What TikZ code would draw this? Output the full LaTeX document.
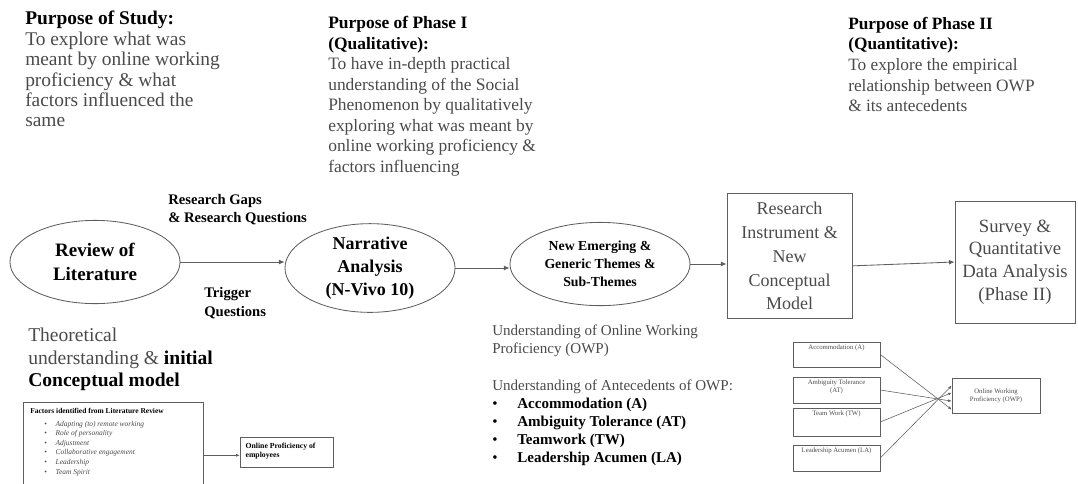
\documentclass[tikz,border=0pt]{standalone}
\usepackage{fontspec}
\setmainfont{Liberation Serif}
\usetikzlibrary{arrows.meta,shapes.geometric,positioning}
\definecolor{linegray}{HTML}{5E5E5E}
\definecolor{textgray}{HTML}{4A4A4A}
\tikzset{
  ovalstage/.style={ellipse,draw=linegray,line width=0.6pt,inner sep=0pt,align=center},
  boxstage/.style={rectangle,draw=linegray,line width=0.6pt,inner sep=0pt,align=center,text=textgray},
  purpose/.style={anchor=north west,inner sep=0pt,align=left,text=textgray},
  flowarrow/.style={-{Latex[length=4pt,width=3.5pt]},linegray,line width=0.6pt},
  minibox/.style={rectangle,draw=linegray,line width=0.4pt,inner sep=0pt,minimum width=2.175cm},
  minilabel/.style={anchor=north,inner sep=2pt,align=center,text=textgray,font=\fontsize{4.8}{5.6}\selectfont},
  miniarrow/.style={-{Latex[length=2.5pt,width=2pt]},linegray,line width=0.4pt}
}
\begin{document}
\begin{tikzpicture}[x=0.025cm,y=-0.025cm]
      \useasboundingbox (0,0) rectangle (1078,483);

      % purposes
      \node[purpose,font=\fontsize{13.8}{14.5}\selectfont] (study) at (25,11)
        {\textbf{\color{black}Purpose of Study:}\\To explore what was\\meant by online working\\proficiency \& what\\factors influenced the\\same};
      \node[purpose,font=\fontsize{12.4}{14.6}\selectfont] (phaseone) at (328,16)
        {\textbf{\color{black}Purpose of Phase I}\\\textbf{\color{black}(Qualitative):}\\To have in-depth practical\\understanding of the Social\\Phenomenon by qualitatively\\exploring what was meant by\\online working proficiency \&\\factors influencing};
      \node[purpose,font=\fontsize{12.3}{14.6}\selectfont] (phasetwo) at (848,17)
        {\textbf{\color{black}Purpose of Phase II}\\\textbf{\color{black}(Quantitative):}\\To explore the empirical\\relationship between OWP\\\& its antecedents};

      % main flow
      \node[ovalstage,minimum width=4.25cm,minimum height=2.08cm,font=\fontsize{13.5}{16.5}\selectfont\bfseries] (review) at (95,262) {Review of\\Literature};
      \node[ovalstage,minimum width=4.25cm,minimum height=2.0cm,font=\fontsize{12.8}{16.5}\selectfont\bfseries] (narrative) at (370,268) {Narrative\\Analysis\\(N-Vivo 10)};
      \node[ovalstage,minimum width=4.5cm,minimum height=2.08cm,font=\fontsize{9.8}{12.8}\selectfont\bfseries] (themes) at (600,264) {New Emerging \&\\Generic Themes \&\\Sub-Themes};
      \node[boxstage,minimum width=3.125cm,minimum height=3.125cm,font=\fontsize{12.8}{17}\selectfont] (instrument) at (789.5,256) {Research\\Instrument \&\\New\\Conceptual\\Model};
      \node[boxstage,minimum width=3.0cm,minimum height=3.05cm,font=\fontsize{13.3}{16.1}\selectfont] (survey) at (1015,262) {Survey \&\\Quantitative\\Data Analysis\\(Phase II)};

      \draw[flowarrow] (review.east) -- (review.east -| narrative.west);
      \draw[flowarrow] (narrative.east) -- (narrative.east -| themes.west);
      \draw[flowarrow] (themes.east) -- (themes.east -| instrument.west);
      \draw[flowarrow] ([yshift=-7pt]instrument.east) -- (survey.west);

      \node[purpose,text=black,font=\fontsize{10.4}{12.8}\selectfont\bfseries] (gaps) at (168,194) {Research Gaps\\\& Research Questions};
      \node[purpose,text=black,font=\fontsize{10.4}{13.3}\selectfont\bfseries] (trigger) at (204,287) {Trigger\\Questions};

      % initial model
      \node[purpose,font=\fontsize{13.9}{16}\selectfont] (theory) at (28,328)
        {Theoretical\\understanding \& \textbf{\color{black}initial}\\\textbf{\color{black}Conceptual model}};
      \node[rectangle,draw=linegray,line width=0.4pt,minimum width=4.5cm,minimum height=2.65cm,anchor=north west] (factors) at (23,402) {};
      \node[purpose,font=\fontsize{5.3}{6.8}\selectfont] (factorlist) at ([xshift=5,yshift=-4]factors.north west)
        {\textbf{\color{black}Factors identified from Literature Review}\\[2.5pt]
         \hspace{10pt}\makebox[8pt][l]{\textbullet}\textit{Adapting (to) remote working}\\
         \hspace{10pt}\makebox[8pt][l]{\textbullet}\textit{Role of personality}\\
         \hspace{10pt}\makebox[8pt][l]{\textbullet}\textit{Adjustment}\\
         \hspace{10pt}\makebox[8pt][l]{\textbullet}\textit{Collaborative engagement}\\
         \hspace{10pt}\makebox[8pt][l]{\textbullet}\textit{Leadership}\\
         \hspace{10pt}\makebox[8pt][l]{\textbullet}\textit{Team Spirit}};
      \node[rectangle,draw=linegray,line width=0.4pt,minimum width=2.325cm,minimum height=0.75cm] (proficiency) at (286.5,452) {};
      \node[purpose,text=black,font=\fontsize{5.5}{6.6}\selectfont\bfseries] (proftext) at ([xshift=4,yshift=-4]proficiency.north west) {Online Proficiency of\\employees};
      \draw[miniarrow] (factors.east) -- (factors.east -| proficiency.west);

      % antecedents
      \node[purpose,font=\fontsize{10.7}{12.8}\selectfont] (owptext) at (492,325)
        {Understanding of Online Working\\Proficiency (OWP)};
      \node[purpose,font=\fontsize{10.7}{12.7}\selectfont] (antetext) at (492,380)
        {Understanding of Antecedents of OWP:\\
         \color{black}\makebox[17.8pt][l]{\textbullet}\textbf{Accommodation (A)}\\
         \color{black}\makebox[17.8pt][l]{\textbullet}\textbf{Ambiguity Tolerance (AT)}\\
         \color{black}\makebox[17.8pt][l]{\textbullet}\textbf{Teamwork (TW)}\\
         \color{black}\makebox[17.8pt][l]{\textbullet}\textbf{Leadership Acumen (LA)}};

      % new conceptual model
      \node[minibox,minimum height=0.625cm,label={[minilabel]north:Accommodation (A)}] (acc) at (836.5,354.5) {};
      \node[minibox,minimum height=0.65cm,label={[minilabel]north:Ambiguity Tolerance\\(AT)}] (amb) at (836.5,390) {};
      \node[minibox,minimum height=0.7cm,label={[minilabel]north:Team Work (TW)}] (tw) at (836.5,422) {};
      \node[minibox,minimum height=0.65cm,label={[minilabel]north:Leadership Acumen (LA)}] (la) at (836.5,458) {};
      \node[minibox,minimum width=2.2cm,minimum height=0.875cm,align=center,text=textgray,font=\fontsize{4.8}{5.8}\selectfont] (owp) at (996,395.5) {Online Working\\Proficiency (OWP)};
      \draw[miniarrow] (acc.east) -- ([yshift=-10]owp.west);
      \draw[miniarrow] (amb.east) -- ([yshift=-4]owp.west);
      \draw[miniarrow] (tw.east) -- ([yshift=2]owp.west);
      \draw[miniarrow] (la.east) -- ([yshift=7]owp.west);
\end{tikzpicture}
\end{document}
